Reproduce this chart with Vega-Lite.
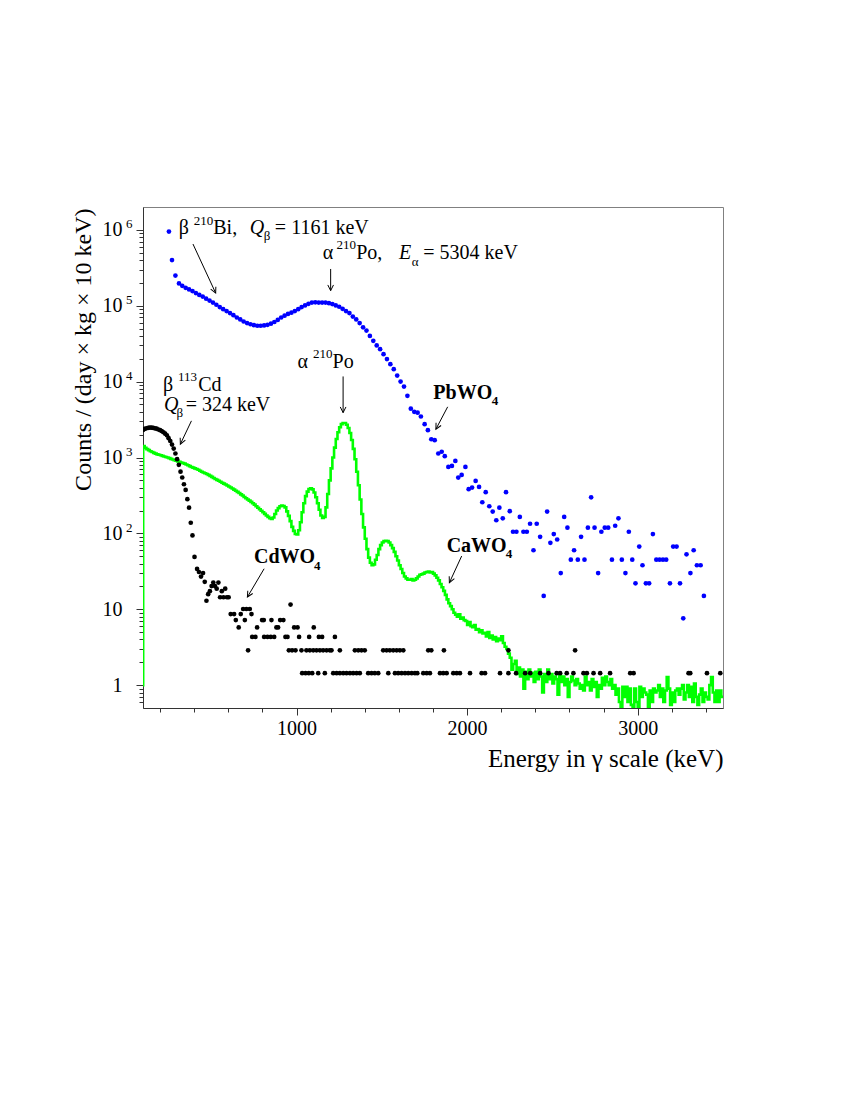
{
  "$schema": "https://vega.github.io/schema/vega-lite/v6.json",
  "width": 580,
  "height": 501,
  "autosize": "none",
  "padding": {"left": 143, "top": 207, "right": 127, "bottom": 392},
  "background": "white",
  "config": {
    "view": {"stroke": "#808080", "strokeWidth": 1},
    "font": "Liberation Serif",
    "text": {"fill": "#000000"},
    "axis": {"grid": false, "labelFont": "Liberation Serif", "titleFont": "Liberation Serif", "labelColor": "#000", "titleColor": "#000", "domainColor": "#333", "tickColor": "#333", "titleFontWeight": "normal"}
  },
  "datasets": {
    "pb": [
      {"E":252,"c":950000},{"E":270,"c":400000},{"E":290,"c":250000},{"E":311,"c":197000},{"E":330,"c":183000},{"E":350,"c":172000},{"E":370,"c":164000},{"E":390,"c":156000},{"E":410,"c":147000},{"E":430,"c":139000},{"E":450,"c":132000},{"E":470,"c":124000},{"E":490,"c":117000},{"E":510,"c":110000},{"E":530,"c":103000},{"E":550,"c":96000},{"E":570,"c":90000},{"E":590,"c":85000},{"E":610,"c":80000},{"E":630,"c":75000},{"E":650,"c":70000},{"E":670,"c":66000},{"E":690,"c":62000},{"E":710,"c":59000},{"E":730,"c":57000},{"E":750,"c":55500},{"E":770,"c":54500},{"E":790,"c":54500},{"E":810,"c":55000},{"E":830,"c":56000},{"E":850,"c":58000},{"E":870,"c":61000},{"E":890,"c":65000},{"E":910,"c":70000},{"E":930,"c":74000},{"E":950,"c":78000},{"E":970,"c":81000},{"E":990,"c":85000},{"E":1010,"c":90000},{"E":1030,"c":96000},{"E":1050,"c":101000},{"E":1070,"c":106000},{"E":1090,"c":110000},{"E":1110,"c":111000},{"E":1130,"c":110000},{"E":1150,"c":110000},{"E":1170,"c":110000},{"E":1190,"c":108000},{"E":1210,"c":105000},{"E":1230,"c":101000},{"E":1250,"c":97000},{"E":1270,"c":91000},{"E":1290,"c":85000},{"E":1310,"c":80000},{"E":1330,"c":72000},{"E":1350,"c":66000},{"E":1370,"c":59000},{"E":1390,"c":52000},{"E":1410,"c":47000},{"E":1430,"c":40000},{"E":1450,"c":34500},{"E":1470,"c":30000},{"E":1490,"c":26800},{"E":1510,"c":23000},{"E":1530,"c":19800},{"E":1550,"c":17000},{"E":1570,"c":14600},{"E":1590,"c":12000},{"E":1610,"c":10000},{"E":1630,"c":8600},{"E":1650,"c":6500},{"E":1670,"c":4400},{"E":1690,"c":4000},{"E":1710,"c":3900},
      {"E":1729,"c":3470},{"E":1751,"c":2750},{"E":1770,"c":2290},{"E":1790,"c":1740},{"E":1810,"c":1690},{"E":1831,"c":1130},{"E":1851,"c":1190},{"E":1869,"c":1040},{"E":1890,"c":752},{"E":1911,"c":775},{"E":1931,"c":902},{"E":1948,"c":543},{"E":1968,"c":589},{"E":1990,"c":752},{"E":2009,"c":382},{"E":2029,"c":401},{"E":2050,"c":491},{"E":2070,"c":409},{"E":2089,"c":257},{"E":2109,"c":349},{"E":2130,"c":228},{"E":2150,"c":194},{"E":2171,"c":149},{"E":2189,"c":218},{"E":2209,"c":158},{"E":2228,"c":349},{"E":2250,"c":196},{"E":2269,"c":105},{"E":2289,"c":105},{"E":2309,"c":165},{"E":2330,"c":105},{"E":2350,"c":105},{"E":2369,"c":134},{"E":2389,"c":60},{"E":2408,"c":134},{"E":2428,"c":90},{"E":2449,"c":15},{"E":2469,"c":194},{"E":2488,"c":75},{"E":2508,"c":98},{"E":2528,"c":83},{"E":2549,"c":30},{"E":2569,"c":165},{"E":2588,"c":119},{"E":2608,"c":45},{"E":2627,"c":60},{"E":2649,"c":45},{"E":2668,"c":90},{"E":2688,"c":45},{"E":2708,"c":119},{"E":2727,"c":299},{"E":2747,"c":119},{"E":2768,"c":30},{"E":2787,"c":105},{"E":2807,"c":119},{"E":2827,"c":119},{"E":2849,"c":45},{"E":2868,"c":126},{"E":2887,"c":158},{"E":2907,"c":45},{"E":2928,"c":30},{"E":2948,"c":105},{"E":2968,"c":45},{"E":2987,"c":22},{"E":3009,"c":67},{"E":3028,"c":38},{"E":3048,"c":22},{"E":3067,"c":22},{"E":3089,"c":98},{"E":3109,"c":45},{"E":3128,"c":45},{"E":3148,"c":45},{"E":3167,"c":45},{"E":3189,"c":22},{"E":3208,"c":67},{"E":3228,"c":67},{"E":3248,"c":22},{"E":3267,"c":7.6},{"E":3286,"c":53},{"E":3309,"c":30},{"E":3328,"c":60},{"E":3347,"c":38},{"E":3369,"c":38},{"E":3388,"c":15}
    ],
    "cd": [
      {"E":100,"c":2310},{"E":110,"c":2380},{"E":120,"c":2430},{"E":130,"c":2460},{"E":140,"c":2480},{"E":150,"c":2470},{"E":160,"c":2450},{"E":170,"c":2420},{"E":180,"c":2400},{"E":190,"c":2340},{"E":200,"c":2290},{"E":210,"c":2230},{"E":220,"c":2150},{"E":230,"c":2060},{"E":240,"c":1960},{"E":250,"c":1800},{"E":260,"c":1650},{"E":270,"c":1480},{"E":280,"c":1310},{"E":290,"c":1130},{"E":300,"c":950},{"E":310,"c":800},{"E":320,"c":650},{"E":330,"c":545},{"E":340,"c":444},{"E":350,"c":374},{"E":360,"c":282},{"E":370,"c":218},{"E":380,"c":138},{"E":390,"c":94},{"E":402,"c":49},{"E":417,"c":34},{"E":428,"c":31},{"E":440,"c":27},{"E":452,"c":30},{"E":462,"c":23},
      {"E":472,"c":12.96},{"E":482,"c":15.8},{"E":492,"c":17.3},{"E":502,"c":20.2},{"E":512,"c":22.5},{"E":522,"c":20.2},{"E":532,"c":18.7},{"E":542,"c":22.5},{"E":552,"c":14.4},{"E":562,"c":17.3},{"E":572,"c":14.4},{"E":582,"c":18.7},{"E":592,"c":14.4},{"E":602,"c":14.4},
      {"E":614,"c":8.64},{"E":634,"c":8.64},{"E":644,"c":7.2},{"E":661,"c":5.76},{"E":673,"c":8.64},{"E":687,"c":10.08},{"E":697,"c":7.2},{"E":706,"c":10.08},{"E":716,"c":2.88},{"E":726,"c":10.08},{"E":736,"c":8.64},{"E":740,"c":4.32},{"E":759,"c":4.32},{"E":769,"c":5.76},{"E":798,"c":7.2},{"E":808,"c":7.2},{"E":810,"c":4.32},{"E":830,"c":4.32},{"E":849,"c":4.32},{"E":853,"c":7.2},{"E":869,"c":4.32},{"E":882,"c":5.76},{"E":892,"c":5.76},{"E":904,"c":7.2},{"E":923,"c":7.2},{"E":935,"c":4.32},{"E":947,"c":4.32},{"E":955,"c":2.88},{"E":965,"c":11.52},{"E":974,"c":2.88},{"E":986,"c":5.76},{"E":994,"c":2.88},{"E":1006,"c":5.76},{"E":1015,"c":4.32},{"E":1029,"c":2.88},{"E":1033,"c":1.44},{"E":1053,"c":1.44},{"E":1058,"c":2.88},{"E":1072,"c":1.44},{"E":1074,"c":4.32},{"E":1078,"c":2.88},{"E":1092,"c":1.44},{"E":1098,"c":2.88},{"E":1101,"c":5.76},{"E":1117,"c":2.88},{"E":1127,"c":1.44},{"E":1131,"c":4.32},{"E":1137,"c":2.88},{"E":1150,"c":4.32},{"E":1156,"c":2.88},{"E":1166,"c":1.44},{"E":1176,"c":2.88},{"E":1195,"c":2.88},{"E":1205,"c":2.88},{"E":1225,"c":4.32},
      {"E":1215,"c":1.44},{"E":1235,"c":1.44},{"E":1254,"c":1.44},{"E":1274,"c":1.44},{"E":1293,"c":1.44},{"E":1313,"c":1.44},{"E":1332,"c":1.44},{"E":1352,"c":1.44},{"E":1371,"c":1.44},{"E":1420,"c":1.44},{"E":1440,"c":1.44},{"E":1459,"c":1.44},{"E":1479,"c":1.44},{"E":1538,"c":1.44},{"E":1577,"c":1.44},{"E":1596,"c":1.44},{"E":1616,"c":1.44},{"E":1636,"c":1.44},{"E":1655,"c":1.44},{"E":1675,"c":1.44},{"E":1694,"c":1.44},{"E":1708,"c":1.44},{"E":1743,"c":1.44},{"E":1763,"c":1.44},{"E":1782,"c":1.44},{"E":1841,"c":1.44},{"E":1860,"c":1.44},{"E":1880,"c":1.44},{"E":1919,"c":1.44},{"E":1939,"c":1.44},{"E":1958,"c":1.44},{"E":2017,"c":1.44},{"E":2085,"c":1.44},{"E":2105,"c":1.44},{"E":2193,"c":1.44},{"E":2242,"c":1.44},{"E":2287,"c":1.44},{"E":2340,"c":1.44},{"E":2370,"c":1.44},{"E":2428,"c":1.44},{"E":2477,"c":1.44},{"E":2525,"c":1.44},{"E":2545,"c":1.44},{"E":2584,"c":1.44},{"E":2623,"c":1.44},{"E":2682,"c":1.44},{"E":2702,"c":1.44},{"E":2741,"c":1.44},{"E":2780,"c":1.44},{"E":2838,"c":1.44},{"E":2956,"c":1.44},{"E":2976,"c":1.44},{"E":3298,"c":1.44},{"E":3308,"c":1.44},{"E":3406,"c":1.44},{"E":3484,"c":1.44},
      {"E":1254,"c":2.88},{"E":1342,"c":2.88},{"E":1362,"c":2.88},{"E":1381,"c":2.88},{"E":1400,"c":2.88},{"E":1508,"c":2.88},{"E":1528,"c":2.88},{"E":1547,"c":2.88},{"E":1567,"c":2.88},{"E":1587,"c":2.88},{"E":1606,"c":2.88},{"E":1626,"c":2.88},{"E":1772,"c":2.88},{"E":1790,"c":2.88},{"E":1864,"c":2.88},{"E":2242,"c":2.88},{"E":2633,"c":2.88}
    ],
    "ca": [
      {"E":100,"c":1},{"E":101,"c":1420},{"E":110,"c":1340},{"E":120,"c":1290},{"E":130,"c":1250},{"E":140,"c":1210},{"E":150,"c":1180},{"E":160,"c":1150},{"E":170,"c":1125},{"E":180,"c":1100},{"E":190,"c":1085},{"E":200,"c":1070},{"E":210,"c":1050},{"E":220,"c":1030},{"E":230,"c":1015},{"E":240,"c":1000},{"E":250,"c":980},{"E":260,"c":960},{"E":270,"c":940},{"E":280,"c":920},{"E":290,"c":905},{"E":300,"c":890},{"E":310,"c":875},{"E":320,"c":860},{"E":330,"c":845},{"E":340,"c":830},{"E":350,"c":810},{"E":360,"c":790},{"E":370,"c":770},{"E":380,"c":750},{"E":390,"c":735},{"E":400,"c":720},{"E":410,"c":705},{"E":420,"c":690},{"E":430,"c":670},{"E":440,"c":650},{"E":450,"c":635},{"E":460,"c":620},{"E":470,"c":605},{"E":480,"c":590},{"E":490,"c":572},{"E":500,"c":555},{"E":510,"c":537},{"E":520,"c":520},{"E":530,"c":507},{"E":540,"c":495},{"E":550,"c":480},{"E":560,"c":465},{"E":570,"c":452},{"E":580,"c":440},{"E":590,"c":427},{"E":600,"c":415},{"E":610,"c":402},{"E":620,"c":390},{"E":630,"c":377},{"E":640,"c":365},{"E":650,"c":352},{"E":660,"c":340},{"E":670,"c":327},{"E":680,"c":315},{"E":690,"c":302},{"E":700,"c":290},{"E":710,"c":280},{"E":720,"c":270},{"E":730,"c":260},{"E":740,"c":250},{"E":750,"c":239},{"E":760,"c":228},{"E":770,"c":218},{"E":780,"c":208},{"E":790,"c":199},{"E":800,"c":190},{"E":810,"c":181},{"E":820,"c":172},{"E":830,"c":165},{"E":840,"c":158},{"E":850,"c":155},{"E":860,"c":162},{"E":870,"c":180},{"E":880,"c":200},{"E":890,"c":215},{"E":900,"c":228},{"E":910,"c":232},{"E":920,"c":230},{"E":930,"c":220},{"E":940,"c":195},{"E":950,"c":170},{"E":960,"c":145},{"E":970,"c":122},{"E":980,"c":108},{"E":990,"c":98},{"E":1000,"c":97},{"E":1010,"c":110},{"E":1020,"c":140},{"E":1030,"c":190},{"E":1040,"c":250},{"E":1050,"c":310},{"E":1060,"c":355},{"E":1070,"c":385},{"E":1080,"c":392},{"E":1090,"c":380},{"E":1100,"c":345},{"E":1110,"c":300},{"E":1120,"c":250},{"E":1130,"c":205},{"E":1140,"c":172},{"E":1150,"c":160},{"E":1160,"c":165},{"E":1170,"c":220},{"E":1180,"c":330},{"E":1190,"c":500},{"E":1200,"c":720},{"E":1210,"c":1000},{"E":1220,"c":1350},{"E":1230,"c":1750},{"E":1240,"c":2150},{"E":1250,"c":2500},{"E":1260,"c":2750},{"E":1270,"c":2850},{"E":1280,"c":2850},{"E":1290,"c":2700},{"E":1300,"c":2450},{"E":1310,"c":2100},{"E":1320,"c":1700},{"E":1330,"c":1300},{"E":1340,"c":950},{"E":1350,"c":650},{"E":1360,"c":430},{"E":1370,"c":280},{"E":1380,"c":180},{"E":1390,"c":120},{"E":1400,"c":85},{"E":1410,"c":62},{"E":1420,"c":48},{"E":1430,"c":41},{"E":1440,"c":38},{"E":1450,"c":39},{"E":1460,"c":45},{"E":1470,"c":52},{"E":1480,"c":62},{"E":1490,"c":70},{"E":1500,"c":76},{"E":1510,"c":79},{"E":1520,"c":80},{"E":1530,"c":79},{"E":1540,"c":76},{"E":1550,"c":70},{"E":1560,"c":64},{"E":1570,"c":57},{"E":1580,"c":50},{"E":1590,"c":44},{"E":1600,"c":38},{"E":1610,"c":34},{"E":1620,"c":30},{"E":1630,"c":27},{"E":1640,"c":25.5},{"E":1650,"c":24.5},{"E":1660,"c":24.5},{"E":1670,"c":25},{"E":1680,"c":24},{"E":1690,"c":24.5},{"E":1700,"c":25.5},{"E":1710,"c":27},{"E":1720,"c":28.5},{"E":1730,"c":29},{"E":1740,"c":29.5},{"E":1750,"c":30.5},{"E":1760,"c":31},{"E":1770,"c":31.5},{"E":1780,"c":30.5},{"E":1790,"c":31},{"E":1800,"c":29.5},{"E":1810,"c":28},{"E":1820,"c":26},{"E":1830,"c":24},{"E":1840,"c":21.5},{"E":1850,"c":19.5},{"E":1860,"c":17.5},{"E":1870,"c":15.5},{"E":1880,"c":13.5},{"E":1890,"c":12},{"E":1900,"c":11},{"E":1910,"c":10},{"E":1920,"c":9},{"E":1930,"c":8.5},{"E":1940,"c":8},{"E":1950,"c":8.6},{"E":1960,"c":7.5},{"E":1970,"c":7.8},{"E":1980,"c":7.2},{"E":1990,"c":7.0},{"E":2000,"c":6.2},{"E":2010,"c":6.8},{"E":2020,"c":6.0},{"E":2030,"c":5.8},{"E":2040,"c":6.2},{"E":2050,"c":5.4},{"E":2060,"c":5.5},{"E":2070,"c":5.0},{"E":2080,"c":5.3},{"E":2090,"c":4.8},{"E":2100,"c":4.9},{"E":2110,"c":4.4},{"E":2120,"c":5.0},{"E":2130,"c":4.2},{"E":2140,"c":4.5},{"E":2150,"c":4.0},{"E":2160,"c":4.3},{"E":2170,"c":3.8},{"E":2180,"c":4.1},{"E":2190,"c":3.9},{"E":2200,"c":4.4},{"E":2210,"c":3.6},{"E":2220,"c":3.2},{"E":2230,"c":3.0},{"E":2240,"c":2.6},{"E":2250,"c":2.3},
      {"E":2260,"c":1.6},{"E":2270,"c":1.9},{"E":2280,"c":2.1},{"E":2290,"c":1.4},{"E":2300,"c":1.7},{"E":2310,"c":1.3},{"E":2320,"c":1.6},{"E":2330,"c":0.9},{"E":2340,"c":1.5},{"E":2350,"c":1.2},{"E":2360,"c":1.6},{"E":2370,"c":1.3},{"E":2380,"c":1.45},{"E":2390,"c":1.1},{"E":2400,"c":1.5},{"E":2410,"c":1.2},{"E":2420,"c":1.6},{"E":2430,"c":1.3},{"E":2440,"c":0.8},{"E":2450,"c":1.4},{"E":2460,"c":1.1},{"E":2470,"c":1.6},{"E":2480,"c":1.2},{"E":2490,"c":1.4},{"E":2500,"c":1.05},{"E":2510,"c":1.3},{"E":2520,"c":1.2},{"E":2530,"c":0.75},{"E":2540,"c":1.4},{"E":2550,"c":1.1},{"E":2560,"c":1.3},{"E":2570,"c":1.0},{"E":2580,"c":1.2},{"E":2590,"c":0.7},{"E":2600,"c":1.1},{"E":2610,"c":1.3},{"E":2620,"c":1.15},{"E":2630,"c":1.0},{"E":2640,"c":1.2},{"E":2650,"c":1.05},{"E":2660,"c":0.9},{"E":2670,"c":1.0},{"E":2680,"c":0.85},{"E":2690,"c":1.3},{"E":2700,"c":1.0},{"E":2710,"c":1.1},{"E":2720,"c":0.85},{"E":2730,"c":1.2},{"E":2740,"c":0.95},{"E":2750,"c":1.1},{"E":2760,"c":0.7},{"E":2770,"c":1.0},{"E":2780,"c":0.9},{"E":2790,"c":1.25},{"E":2800,"c":1.0},{"E":2810,"c":1.3},{"E":2820,"c":1.1},{"E":2830,"c":1.0},{"E":2840,"c":1.2},{"E":2850,"c":0.9},{"E":2860,"c":1.0},{"E":2870,"c":0.75},{"E":2880,"c":0.9},{"E":2890,"c":0.6},{"E":2900,"c":0.5},{"E":2910,"c":0.95},{"E":2920,"c":0.7},{"E":2930,"c":0.95},{"E":2940,"c":0.6},{"E":2950,"c":0.9},{"E":2960,"c":0.55},{"E":2970,"c":0.5},{"E":2980,"c":0.9},{"E":2990,"c":0.6},{"E":3000,"c":0.5},{"E":3010,"c":0.95},{"E":3020,"c":0.7},{"E":3030,"c":0.9},{"E":3040,"c":0.8},{"E":3050,"c":0.75},{"E":3060,"c":0.5},{"E":3070,"c":0.85},{"E":3080,"c":0.6},{"E":3090,"c":0.9},{"E":3100,"c":0.8},{"E":3110,"c":0.85},{"E":3120,"c":1.0},{"E":3130,"c":0.7},{"E":3140,"c":0.9},{"E":3150,"c":0.6},{"E":3160,"c":0.85},{"E":3170,"c":1.28},{"E":3180,"c":0.9},{"E":3190,"c":0.55},{"E":3200,"c":0.8},{"E":3210,"c":0.6},{"E":3220,"c":0.85},{"E":3230,"c":0.9},{"E":3240,"c":0.75},{"E":3250,"c":0.9},{"E":3260,"c":1.0},{"E":3270,"c":0.65},{"E":3280,"c":0.8},{"E":3290,"c":1.0},{"E":3300,"c":0.7},{"E":3310,"c":0.95},{"E":3320,"c":0.6},{"E":3330,"c":1.05},{"E":3340,"c":0.7},{"E":3350,"c":0.55},{"E":3360,"c":0.75},{"E":3370,"c":0.9},{"E":3380,"c":0.6},{"E":3390,"c":0.8},{"E":3400,"c":0.7},{"E":3410,"c":0.65},{"E":3420,"c":1.0},{"E":3430,"c":1.28},{"E":3440,"c":0.8},{"E":3450,"c":0.6},{"E":3460,"c":0.85},{"E":3470,"c":0.6},{"E":3480,"c":0.85},{"E":3490,"c":0.7},{"E":3500,"c":0.7}
    ]
  },
  "resolve": {"axis": {"x": "independent", "y": "independent"}},
  "layer": [
    {
      "data": {"name": "ca"},
      "mark": {"type": "line", "color": "#00ff00", "strokeWidth": 2.6, "interpolate": "step-after", "clip": true},
      "encoding": {
        "x": {"field": "E", "type": "quantitative", "scale": {"type": "linear", "domain": [100, 3500], "zero": false, "nice": false},
              "axis": {"orient": "bottom", "values": [1000, 2000, 3000], "tickSize": 7, "labelPadding": 3, "labelFontSize": 20, "format": "d",
                       "title": "Energy in γ scale (keV)", "titleFontSize": 25, "titleAnchor": null, "titleAlign": "right", "titleBaseline": "alphabetic", "titleX": 580, "titleY": 58}},
        "y": {"field": "c", "type": "quantitative", "scale": {"type": "log", "domain": [0.5, 2000000], "nice": false},
              "axis": {"orient": "left", "values": [1, 10, 100, 1000, 10000, 100000, 1000000], "labelExpr": "datum.value < 5 ? '1' : '10'", "tickSize": 7, "labelPadding": 14, "labelFontSize": 20,
                       "title": "Counts / (day × kg × 10 keV)", "titleFontSize": 24, "titleAnchor": null, "titleAngle": -90, "titleAlign": "right", "titleBaseline": "alphabetic", "titleX": -53, "titleY": 1}}
      }
    },
    {
      "data": {"name": "cd"},
      "mark": {"type": "point", "shape": "circle", "filled": true, "color": "#000000", "size": 22, "opacity": 1, "clip": true},
      "encoding": {
        "x": {"field": "E", "type": "quantitative", "scale": {"type": "linear", "domain": [100, 3500], "zero": false, "nice": false},
              "axis": {"orient": "bottom", "values": [200, 400, 600, 800, 1200, 1400, 1600, 1800, 2200, 2400, 2600, 2800, 3200, 3400], "tickSize": 4, "labels": false, "domain": false, "title": null}},
        "y": {"field": "c", "type": "quantitative", "scale": {"type": "log", "domain": [0.5, 2000000], "nice": false},
              "axis": {"orient": "left", "values": [0.6, 0.7, 0.8, 0.9, 2, 3, 4, 5, 6, 7, 8, 9, 20, 30, 40, 50, 60, 70, 80, 90, 200, 300, 400, 500, 600, 700, 800, 900, 2000, 3000, 4000, 5000, 6000, 7000, 8000, 9000, 20000, 30000, 40000, 50000, 60000, 70000, 80000, 90000, 200000, 300000, 400000, 500000, 600000, 700000, 800000, 900000], "tickSize": 4, "labels": false, "domain": false, "title": null}}
      }
    },
    {
      "data": {"name": "pb"},
      "mark": {"type": "point", "shape": "circle", "filled": true, "color": "#0000ff", "size": 22, "opacity": 1, "clip": true},
      "encoding": {
        "x": {"field": "E", "type": "quantitative", "scale": {"type": "linear", "domain": [100, 3500], "zero": false, "nice": false}, "axis": null},
        "y": {"field": "c", "type": "quantitative", "scale": {"type": "log", "domain": [0.5, 2000000], "nice": false},
              "axis": {"orient": "left", "values": [100, 1000, 10000, 100000, 1000000], "labelExpr": "datum.value == 100 ? '2' : datum.value == 1000 ? '3' : datum.value == 10000 ? '4' : datum.value == 100000 ? '5' : '6'", "ticks": true, "tickSize": 0, "labelPadding": 11, "labelFontSize": 13, "labelOffset": -6, "domain": false, "title": null}}
      }
    },
    {
      "data": {"values": [{}]},
      "layer": [
        {"mark": {"type": "text", "text": "β", "align": "left", "baseline": "alphabetic", "fontSize": 20, "fill": "#000"}, "encoding": {"x": {"datum": 309, "type": "quantitative", "scale": {"type": "linear", "domain": [100, 3500], "zero": false, "nice": false}, "axis": null}, "y": {"datum": 891000, "type": "quantitative", "scale": {"type": "log", "domain": [0.5, 2000000], "nice": false}, "axis": null}}},
        {"mark": {"type": "text", "text": "210", "align": "left", "baseline": "alphabetic", "fontSize": 13, "fill": "#000"}, "encoding": {"x": {"datum": 397, "type": "quantitative", "scale": {"type": "linear", "domain": [100, 3500], "zero": false, "nice": false}, "axis": null}, "y": {"datum": 1170000, "type": "quantitative", "scale": {"type": "log", "domain": [0.5, 2000000], "nice": false}, "axis": null}}},
        {"mark": {"type": "text", "text": "Bi,", "align": "left", "baseline": "alphabetic", "fontSize": 20, "fill": "#000"}, "encoding": {"x": {"datum": 512, "type": "quantitative", "scale": {"type": "linear", "domain": [100, 3500], "zero": false, "nice": false}, "axis": null}, "y": {"datum": 891000, "type": "quantitative", "scale": {"type": "log", "domain": [0.5, 2000000], "nice": false}, "axis": null}}},
        {"mark": {"type": "text", "text": "Q", "align": "left", "baseline": "alphabetic", "fontSize": 20, "fontStyle": "italic", "fill": "#000"}, "encoding": {"x": {"datum": 726, "type": "quantitative", "scale": {"type": "linear", "domain": [100, 3500], "zero": false, "nice": false}, "axis": null}, "y": {"datum": 891000, "type": "quantitative", "scale": {"type": "log", "domain": [0.5, 2000000], "nice": false}, "axis": null}}},
        {"mark": {"type": "text", "text": "β", "align": "left", "baseline": "alphabetic", "fontSize": 13, "fill": "#000"}, "encoding": {"x": {"datum": 808, "type": "quantitative", "scale": {"type": "linear", "domain": [100, 3500], "zero": false, "nice": false}, "axis": null}, "y": {"datum": 743000, "type": "quantitative", "scale": {"type": "log", "domain": [0.5, 2000000], "nice": false}, "axis": null}}},
        {"mark": {"type": "text", "text": "= 1161 keV", "align": "left", "baseline": "alphabetic", "fontSize": 20, "fill": "#000"}, "encoding": {"x": {"datum": 873, "type": "quantitative", "scale": {"type": "linear", "domain": [100, 3500], "zero": false, "nice": false}, "axis": null}, "y": {"datum": 891000, "type": "quantitative", "scale": {"type": "log", "domain": [0.5, 2000000], "nice": false}, "axis": null}}},

        {"mark": {"type": "text", "text": "α", "align": "left", "baseline": "alphabetic", "fontSize": 20, "fill": "#000"}, "encoding": {"x": {"datum": 1153, "type": "quantitative", "scale": {"type": "linear", "domain": [100, 3500], "zero": false, "nice": false}, "axis": null}, "y": {"datum": 413000, "type": "quantitative", "scale": {"type": "log", "domain": [0.5, 2000000], "nice": false}, "axis": null}}},
        {"mark": {"type": "text", "text": "210", "align": "left", "baseline": "alphabetic", "fontSize": 13, "fill": "#000"}, "encoding": {"x": {"datum": 1235, "type": "quantitative", "scale": {"type": "linear", "domain": [100, 3500], "zero": false, "nice": false}, "axis": null}, "y": {"datum": 565000, "type": "quantitative", "scale": {"type": "log", "domain": [0.5, 2000000], "nice": false}, "axis": null}}},
        {"mark": {"type": "text", "text": "Po,", "align": "left", "baseline": "alphabetic", "fontSize": 20, "fill": "#000"}, "encoding": {"x": {"datum": 1350, "type": "quantitative", "scale": {"type": "linear", "domain": [100, 3500], "zero": false, "nice": false}, "axis": null}, "y": {"datum": 413000, "type": "quantitative", "scale": {"type": "log", "domain": [0.5, 2000000], "nice": false}, "axis": null}}},
        {"mark": {"type": "text", "text": "E", "align": "left", "baseline": "alphabetic", "fontSize": 20, "fontStyle": "italic", "fill": "#000"}, "encoding": {"x": {"datum": 1600, "type": "quantitative", "scale": {"type": "linear", "domain": [100, 3500], "zero": false, "nice": false}, "axis": null}, "y": {"datum": 413000, "type": "quantitative", "scale": {"type": "log", "domain": [0.5, 2000000], "nice": false}, "axis": null}}},
        {"mark": {"type": "text", "text": "α", "align": "left", "baseline": "alphabetic", "fontSize": 13, "fill": "#000"}, "encoding": {"x": {"datum": 1675, "type": "quantitative", "scale": {"type": "linear", "domain": [100, 3500], "zero": false, "nice": false}, "axis": null}, "y": {"datum": 337000, "type": "quantitative", "scale": {"type": "log", "domain": [0.5, 2000000], "nice": false}, "axis": null}}},
        {"mark": {"type": "text", "text": "= 5304 keV", "align": "left", "baseline": "alphabetic", "fontSize": 20, "fill": "#000"}, "encoding": {"x": {"datum": 1743, "type": "quantitative", "scale": {"type": "linear", "domain": [100, 3500], "zero": false, "nice": false}, "axis": null}, "y": {"datum": 413000, "type": "quantitative", "scale": {"type": "log", "domain": [0.5, 2000000], "nice": false}, "axis": null}}},

        {"mark": {"type": "text", "text": "α", "align": "left", "baseline": "alphabetic", "fontSize": 20, "fill": "#000"}, "encoding": {"x": {"datum": 1006, "type": "quantitative", "scale": {"type": "linear", "domain": [100, 3500], "zero": false, "nice": false}, "axis": null}, "y": {"datum": 14900, "type": "quantitative", "scale": {"type": "log", "domain": [0.5, 2000000], "nice": false}, "axis": null}}},
        {"mark": {"type": "text", "text": "210", "align": "left", "baseline": "alphabetic", "fontSize": 13, "fill": "#000"}, "encoding": {"x": {"datum": 1097, "type": "quantitative", "scale": {"type": "linear", "domain": [100, 3500], "zero": false, "nice": false}, "axis": null}, "y": {"datum": 20600, "type": "quantitative", "scale": {"type": "log", "domain": [0.5, 2000000], "nice": false}, "axis": null}}},
        {"mark": {"type": "text", "text": "Po", "align": "left", "baseline": "alphabetic", "fontSize": 20, "fill": "#000"}, "encoding": {"x": {"datum": 1211, "type": "quantitative", "scale": {"type": "linear", "domain": [100, 3500], "zero": false, "nice": false}, "axis": null}, "y": {"datum": 14900, "type": "quantitative", "scale": {"type": "log", "domain": [0.5, 2000000], "nice": false}, "axis": null}}},

        {"mark": {"type": "text", "text": "PbWO", "align": "left", "baseline": "alphabetic", "fontSize": 20, "fontWeight": "bold", "fill": "#000"}, "encoding": {"x": {"datum": 1802, "type": "quantitative", "scale": {"type": "linear", "domain": [100, 3500], "zero": false, "nice": false}, "axis": null}, "y": {"datum": 5985, "type": "quantitative", "scale": {"type": "log", "domain": [0.5, 2000000], "nice": false}, "axis": null}}},
        {"mark": {"type": "text", "text": "4", "align": "left", "baseline": "alphabetic", "fontSize": 13, "fontWeight": "bold", "fill": "#000"}, "encoding": {"x": {"datum": 2144, "type": "quantitative", "scale": {"type": "linear", "domain": [100, 3500], "zero": false, "nice": false}, "axis": null}, "y": {"datum": 4943, "type": "quantitative", "scale": {"type": "log", "domain": [0.5, 2000000], "nice": false}, "axis": null}}},

        {"mark": {"type": "text", "text": "β", "align": "left", "baseline": "alphabetic", "fontSize": 20, "fill": "#000"}, "encoding": {"x": {"datum": 217, "type": "quantitative", "scale": {"type": "linear", "domain": [100, 3500], "zero": false, "nice": false}, "axis": null}, "y": {"datum": 7565, "type": "quantitative", "scale": {"type": "log", "domain": [0.5, 2000000], "nice": false}, "axis": null}}},
        {"mark": {"type": "text", "text": "113", "align": "left", "baseline": "alphabetic", "fontSize": 13, "fill": "#000"}, "encoding": {"x": {"datum": 305, "type": "quantitative", "scale": {"type": "linear", "domain": [100, 3500], "zero": false, "nice": false}, "axis": null}, "y": {"datum": 10250, "type": "quantitative", "scale": {"type": "log", "domain": [0.5, 2000000], "nice": false}, "axis": null}}},
        {"mark": {"type": "text", "text": "Cd", "align": "left", "baseline": "alphabetic", "fontSize": 20, "fill": "#000"}, "encoding": {"x": {"datum": 424, "type": "quantitative", "scale": {"type": "linear", "domain": [100, 3500], "zero": false, "nice": false}, "axis": null}, "y": {"datum": 7565, "type": "quantitative", "scale": {"type": "log", "domain": [0.5, 2000000], "nice": false}, "axis": null}}},
        {"mark": {"type": "text", "text": "Q", "align": "left", "baseline": "alphabetic", "fontSize": 20, "fontStyle": "italic", "fill": "#000"}, "encoding": {"x": {"datum": 223, "type": "quantitative", "scale": {"type": "linear", "domain": [100, 3500], "zero": false, "nice": false}, "axis": null}, "y": {"datum": 4120, "type": "quantitative", "scale": {"type": "log", "domain": [0.5, 2000000], "nice": false}, "axis": null}}},
        {"mark": {"type": "text", "text": "β", "align": "left", "baseline": "alphabetic", "fontSize": 13, "fill": "#000"}, "encoding": {"x": {"datum": 296, "type": "quantitative", "scale": {"type": "linear", "domain": [100, 3500], "zero": false, "nice": false}, "axis": null}, "y": {"datum": 3434, "type": "quantitative", "scale": {"type": "log", "domain": [0.5, 2000000], "nice": false}, "axis": null}}},
        {"mark": {"type": "text", "text": "= 324 keV", "align": "left", "baseline": "alphabetic", "fontSize": 20, "fill": "#000"}, "encoding": {"x": {"datum": 350, "type": "quantitative", "scale": {"type": "linear", "domain": [100, 3500], "zero": false, "nice": false}, "axis": null}, "y": {"datum": 4120, "type": "quantitative", "scale": {"type": "log", "domain": [0.5, 2000000], "nice": false}, "axis": null}}},

        {"mark": {"type": "text", "text": "CdWO", "align": "left", "baseline": "alphabetic", "fontSize": 20, "fontWeight": "bold", "fill": "#000"}, "encoding": {"x": {"datum": 751, "type": "quantitative", "scale": {"type": "linear", "domain": [100, 3500], "zero": false, "nice": false}, "axis": null}, "y": {"datum": 40.3, "type": "quantitative", "scale": {"type": "log", "domain": [0.5, 2000000], "nice": false}, "axis": null}}},
        {"mark": {"type": "text", "text": "4", "align": "left", "baseline": "alphabetic", "fontSize": 13, "fontWeight": "bold", "fill": "#000"}, "encoding": {"x": {"datum": 1102, "type": "quantitative", "scale": {"type": "linear", "domain": [100, 3500], "zero": false, "nice": false}, "axis": null}, "y": {"datum": 32.9, "type": "quantitative", "scale": {"type": "log", "domain": [0.5, 2000000], "nice": false}, "axis": null}}},
        {"mark": {"type": "text", "text": "CaWO", "align": "left", "baseline": "alphabetic", "fontSize": 20, "fontWeight": "bold", "fill": "#000"}, "encoding": {"x": {"datum": 1880, "type": "quantitative", "scale": {"type": "linear", "domain": [100, 3500], "zero": false, "nice": false}, "axis": null}, "y": {"datum": 57.4, "type": "quantitative", "scale": {"type": "log", "domain": [0.5, 2000000], "nice": false}, "axis": null}}},
        {"mark": {"type": "text", "text": "4", "align": "left", "baseline": "alphabetic", "fontSize": 13, "fontWeight": "bold", "fill": "#000"}, "encoding": {"x": {"datum": 2227, "type": "quantitative", "scale": {"type": "linear", "domain": [100, 3500], "zero": false, "nice": false}, "axis": null}, "y": {"datum": 47.4, "type": "quantitative", "scale": {"type": "log", "domain": [0.5, 2000000], "nice": false}, "axis": null}}},

        {"mark": {"type": "rule", "color": "#000", "strokeWidth": 1}, "encoding": {"x": {"datum": 393, "type": "quantitative", "scale": {"type": "linear", "domain": [100, 3500], "zero": false, "nice": false}, "axis": null}, "y": {"datum": 650000, "type": "quantitative", "scale": {"type": "log", "domain": [0.5, 2000000], "nice": false}, "axis": null}, "x2": {"datum": 526}, "y2": {"datum": 147000}}},
        {"mark": {"type": "rule", "color": "#000", "strokeWidth": 1}, "encoding": {"x": {"datum": 1200, "type": "quantitative", "scale": {"type": "linear", "domain": [100, 3500], "zero": false, "nice": false}, "axis": null}, "y": {"datum": 305000, "type": "quantitative", "scale": {"type": "log", "domain": [0.5, 2000000], "nice": false}, "axis": null}, "x2": {"datum": 1200}, "y2": {"datum": 158000}}},
        {"mark": {"type": "rule", "color": "#000", "strokeWidth": 1}, "encoding": {"x": {"datum": 1273, "type": "quantitative", "scale": {"type": "linear", "domain": [100, 3500], "zero": false, "nice": false}, "axis": null}, "y": {"datum": 11700, "type": "quantitative", "scale": {"type": "log", "domain": [0.5, 2000000], "nice": false}, "axis": null}, "x2": {"datum": 1273}, "y2": {"datum": 3900}}},
        {"mark": {"type": "rule", "color": "#000", "strokeWidth": 1}, "encoding": {"x": {"datum": 1886, "type": "quantitative", "scale": {"type": "linear", "domain": [100, 3500], "zero": false, "nice": false}, "axis": null}, "y": {"datum": 4653, "type": "quantitative", "scale": {"type": "log", "domain": [0.5, 2000000], "nice": false}, "axis": null}, "x2": {"datum": 1817}, "y2": {"datum": 2362}}},
        {"mark": {"type": "rule", "color": "#000", "strokeWidth": 1}, "encoding": {"x": {"datum": 384, "type": "quantitative", "scale": {"type": "linear", "domain": [100, 3500], "zero": false, "nice": false}, "axis": null}, "y": {"datum": 3040, "type": "quantitative", "scale": {"type": "log", "domain": [0.5, 2000000], "nice": false}, "axis": null}, "x2": {"datum": 319}, "y2": {"datum": 1499}}},
        {"mark": {"type": "rule", "color": "#000", "strokeWidth": 1}, "encoding": {"x": {"datum": 810, "type": "quantitative", "scale": {"type": "linear", "domain": [100, 3500], "zero": false, "nice": false}, "axis": null}, "y": {"datum": 34.2, "type": "quantitative", "scale": {"type": "log", "domain": [0.5, 2000000], "nice": false}, "axis": null}, "x2": {"datum": 712}, "y2": {"datum": 14.5}}},
        {"mark": {"type": "rule", "color": "#000", "strokeWidth": 1}, "encoding": {"x": {"datum": 1968, "type": "quantitative", "scale": {"type": "linear", "domain": [100, 3500], "zero": false, "nice": false}, "axis": null}, "y": {"datum": 50.3, "type": "quantitative", "scale": {"type": "log", "domain": [0.5, 2000000], "nice": false}, "axis": null}, "x2": {"datum": 1896}, "y2": {"datum": 22.4}}},

        {"mark": {"type": "point", "shape": "M-0.5,-1L0,0L0.5,-1", "filled": false, "stroke": "#000", "strokeWidth": 1, "size": 130, "angle": 335, "opacity": 1}, "encoding": {"x": {"datum": 526, "type": "quantitative", "scale": {"type": "linear", "domain": [100, 3500], "zero": false, "nice": false}, "axis": null}, "y": {"datum": 147000, "type": "quantitative", "scale": {"type": "log", "domain": [0.5, 2000000], "nice": false}, "axis": null}}},
        {"mark": {"type": "point", "shape": "M-0.5,-1L0,0L0.5,-1", "filled": false, "stroke": "#000", "strokeWidth": 1, "size": 130, "angle": 0, "opacity": 1}, "encoding": {"x": {"datum": 1200, "type": "quantitative", "scale": {"type": "linear", "domain": [100, 3500], "zero": false, "nice": false}, "axis": null}, "y": {"datum": 158000, "type": "quantitative", "scale": {"type": "log", "domain": [0.5, 2000000], "nice": false}, "axis": null}}},
        {"mark": {"type": "point", "shape": "M-0.5,-1L0,0L0.5,-1", "filled": false, "stroke": "#000", "strokeWidth": 1, "size": 130, "angle": 0, "opacity": 1}, "encoding": {"x": {"datum": 1273, "type": "quantitative", "scale": {"type": "linear", "domain": [100, 3500], "zero": false, "nice": false}, "axis": null}, "y": {"datum": 3900, "type": "quantitative", "scale": {"type": "log", "domain": [0.5, 2000000], "nice": false}, "axis": null}}},
        {"mark": {"type": "point", "shape": "M-0.5,-1L0,0L0.5,-1", "filled": false, "stroke": "#000", "strokeWidth": 1, "size": 130, "angle": 28, "opacity": 1}, "encoding": {"x": {"datum": 1817, "type": "quantitative", "scale": {"type": "linear", "domain": [100, 3500], "zero": false, "nice": false}, "axis": null}, "y": {"datum": 2362, "type": "quantitative", "scale": {"type": "log", "domain": [0.5, 2000000], "nice": false}, "axis": null}}},
        {"mark": {"type": "point", "shape": "M-0.5,-1L0,0L0.5,-1", "filled": false, "stroke": "#000", "strokeWidth": 1, "size": 130, "angle": 25, "opacity": 1}, "encoding": {"x": {"datum": 319, "type": "quantitative", "scale": {"type": "linear", "domain": [100, 3500], "zero": false, "nice": false}, "axis": null}, "y": {"datum": 1499, "type": "quantitative", "scale": {"type": "log", "domain": [0.5, 2000000], "nice": false}, "axis": null}}},
        {"mark": {"type": "point", "shape": "M-0.5,-1L0,0L0.5,-1", "filled": false, "stroke": "#000", "strokeWidth": 1, "size": 130, "angle": 30, "opacity": 1}, "encoding": {"x": {"datum": 712, "type": "quantitative", "scale": {"type": "linear", "domain": [100, 3500], "zero": false, "nice": false}, "axis": null}, "y": {"datum": 14.5, "type": "quantitative", "scale": {"type": "log", "domain": [0.5, 2000000], "nice": false}, "axis": null}}},
        {"mark": {"type": "point", "shape": "M-0.5,-1L0,0L0.5,-1", "filled": false, "stroke": "#000", "strokeWidth": 1, "size": 130, "angle": 25, "opacity": 1}, "encoding": {"x": {"datum": 1896, "type": "quantitative", "scale": {"type": "linear", "domain": [100, 3500], "zero": false, "nice": false}, "axis": null}, "y": {"datum": 22.4, "type": "quantitative", "scale": {"type": "log", "domain": [0.5, 2000000], "nice": false}, "axis": null}}}
      ]
    }
  ]
}
